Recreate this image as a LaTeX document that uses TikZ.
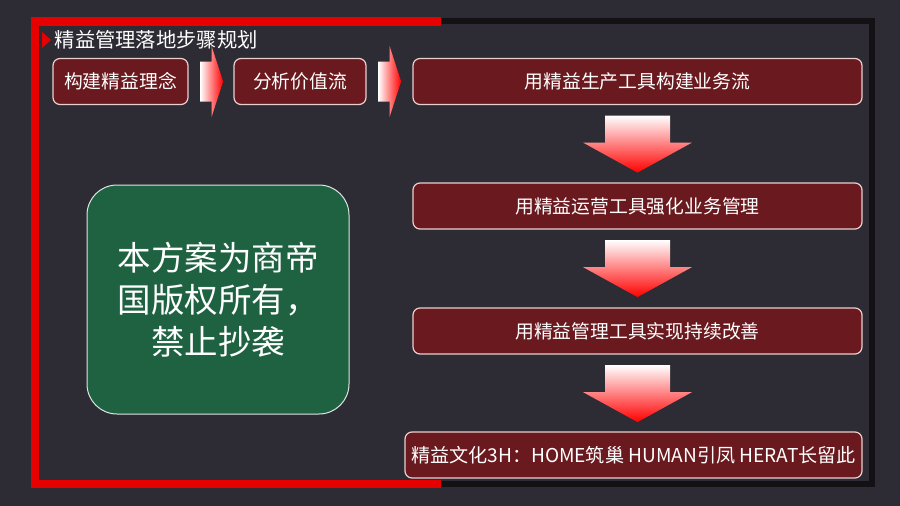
\documentclass[tikz,border=0pt]{standalone}
\usepackage{fontspec}
\newfontfamily\cjk{Noto Sans CJK SC}
\usetikzlibrary{calc,shadings}
\definecolor{slate}{HTML}{2D2C34}
\definecolor{wine}{HTML}{6A1A1F}
\definecolor{pine}{HTML}{1F6241}
\definecolor{framered}{HTML}{E60000}
\definecolor{framedark}{HTML}{141114}
\definecolor{rim}{HTML}{E9CFCF}
\tikzstyle{stepbox}=[draw=rim,line width=1.2pt,fill=wine,rounded corners=7pt,text=white,inner sep=0pt,minimum height=46pt,font=\cjk\fontsize{18.8}{20}\selectfont]
\tikzstyle{noticebox}=[draw=white!85!pine,line width=1pt,fill=pine,rounded corners=30pt,text=white,align=center,inner sep=0pt,minimum width=262pt,minimum height=229pt,font=\cjk\fontsize{33.5}{42}\selectfont]
\tikzstyle{flowright}=[left color=white,right color=red]
\tikzstyle{flowdown}=[top color=white,bottom color=red]
\tikzstyle{title} = [text=white,anchor=west,inner sep=0pt,font=\cjk\fontsize{20.3}{22}\selectfont]

\begin{document}
\begin{tikzpicture}[x=1pt,y=-1pt]
    % background and page size
    \useasboundingbox (0,0) rectangle (900,506);
    \fill[slate] (0,0) rectangle (900,506);
    % frame: dark right half, red left half
    \draw[framedark,line width=6pt] (441,20.5) -- (871.5,20.5) -- (871.5,484) -- (441,484);
    \draw[framered,line width=8.5pt] (441,21.5) -- (35,21.5) -- (35,484) -- (441,484);

    % title
    \fill[framered] (42,32) -- (51,40) -- (42,48) -- cycle;
    \node[title] (plan) at (54.5,40) {精益管理落地步骤规划};

    % the steps
    \foreach \pos/\name/\w/\txt in {{(120.5,81.5)/concept/135/构建精益理念},
                                    {(300,81.5)/valuestream/132/分析价值流},
                                    {(637.5,81.5)/leanprod/449/用精益生产工具构建业务流},
                                    {(637.5,206)/leanops/449/用精益运营工具强化业务管理},
                                    {(637.5,331)/leanmgmt/449/用精益管理工具实现持续改善}}
        \node[stepbox,minimum width=\w pt] (\name) at \pos {\txt};
    \node[stepbox,minimum width=457pt,font=\cjk\fontsize{19.1}{20}\selectfont] (culture) at (633.5,455)
        {精益文化3H：HOME筑巢 HUMAN引凤 HERAT长留此};

    % block arrows between the steps
    \foreach \from in {concept,valuestream}
        \shade[flowright,shift={($(\from.east)+(11.5,0)$)}] (0,-20) -- (11.5,-20) -- (11.5,-35.5)
            -- (23,0) -- (11.5,35.5) -- (11.5,20) -- (0,20) -- cycle;
    \foreach \from in {leanprod,leanops,leanmgmt}
        \shade[flowdown,shift={($(\from.south)+(0,10.5)$)}] (-32.5,0) -- (32.5,0) -- (32.5,27)
            -- (54.5,27) -- (0,57) -- (-54.5,27) -- (-32.5,27) -- cycle;

    % notice
    \node[noticebox] (notice) at (218,299.5) {本方案为商帝\\国版权所有，\\禁止抄袭};
\end{tikzpicture}
\end{document}
